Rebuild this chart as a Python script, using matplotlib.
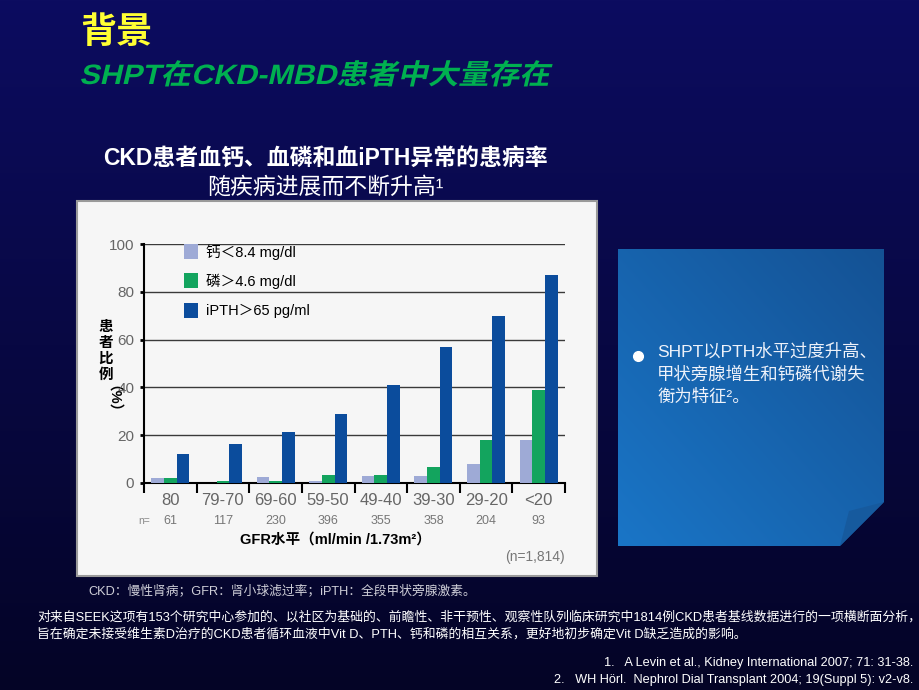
import numpy as np
import matplotlib
matplotlib.use("Agg")
import matplotlib.pyplot as plt
from matplotlib.patches import Rectangle, Polygon, PathPatch
from matplotlib.textpath import TextPath
from matplotlib.font_manager import FontProperties
from matplotlib.transforms import Affine2D

plt.rcParams['font.family'] = ['Liberation Sans', 'Noto Sans CJK SC', 'DejaVu Sans']

# data
gfr_groups = ["80", "79-70", "69-60", "59-50", "49-40", "39-30", "29-20", "<20"]
n_patients = ["61", "117", "230", "396", "355", "358", "204", "93"]
calcium_low = [2, 0, 2.5, 1, 3, 3, 8, 18]
phosphorus_high = [2, 1, 1, 3.5, 3.5, 6.5, 18, 39]
ipth_high = [12, 16.5, 21.5, 29, 41, 57, 70, 87]
series_labels = ["钙＜8.4 mg/dl", "磷＞4.6 mg/dl", "iPTH＞65 pg/ml"]
series_colors = ["#9eaad6", "#13a45e", "#0b4c9c"]
y_ticks = [0, 20, 40, 60, 80, 100]

fig = plt.figure(figsize=(9.2, 6.9), dpi=100)

# slide background in pixel coordinates
bg = fig.add_axes([0, 0, 1, 1])
bg.set_xlim(0, 920)
bg.set_ylim(690, 0)
bg.axis("off")
top = np.array([12, 12, 96]) / 255
bot = np.array([4, 4, 38]) / 255
t = np.linspace(0, 1, 256)[:, None]
grad = (top * (1 - t) + bot * t)[:, None, :].repeat(2, axis=1)
bg.imshow(grad, extent=[0, 920, 690, 0], aspect="auto", zorder=0)

# titles
bg.text(80, 33, "背景", color="#ffff33", fontsize=26, fontweight="bold",
        va="center", family=["Noto Sans CJK SC"])

# slanted green subtitle (CJK font has no italic, so shear the glyph outlines)
sub = "SHPT在CKD-MBD患者中大量存在"
try:
    tp = TextPath((0, 0), sub, size=30,
                  prop=FontProperties(family=['Liberation Sans', 'Noto Sans CJK SC'],
                                      weight="bold"))
    ext = tp.get_extents()
    k = 468 / ext.width
    tr = Affine2D().skew_deg(12, 0).scale(k, -k * 0.92).translate(80 - ext.x0 * k, 84)
    bg.add_patch(PathPatch(tr.transform_path(tp), fc="#00b050", ec="none", zorder=3))
except Exception:
    bg.text(80, 73, sub, color="#00b050", fontsize=22, fontweight="bold",
            style="italic", va="center")

bg.text(325, 158, "CKD患者血钙、血磷和血iPTH异常的患病率", color="white",
        fontsize=16.5, fontweight="bold", ha="center", va="center")
bg.text(325, 187, "随疾病进展而不断升高¹", color="white", fontsize=16.5,
        ha="center", va="center")

# chart panel
bg.add_patch(Rectangle((77, 201), 520, 375, fc="#f6f6f6", ec="#9a9a9a", lw=1.5, zorder=1))

# right note box with folded corner
box = Polygon([(618, 249), (884, 249), (884, 502), (840, 546), (618, 546)],
              closed=True, fc="none", ec="none", zorder=2)
bg.add_patch(box)
yy, xx = np.mgrid[0:1:200j, 0:1:200j]
w = (xx + yy) / 2  # 0 at bottom-left, 1 at top-right
c0 = np.array([0.10, 0.46, 0.78])
c1 = np.array([0.08, 0.32, 0.58])
boxgrad = c0 * (1 - w[..., None]) + c1 * w[..., None]
im = bg.imshow(boxgrad, extent=[618, 884, 546, 249], aspect="auto", zorder=2, origin="lower")
im.set_clip_path(box)
bg.add_patch(Polygon([(884, 502), (849, 511), (840, 546)], closed=True,
                     fc="#165a9e", ec="none", zorder=3))
bg.plot(638, 356, "o", color="white", ms=7, zorder=4)
bg.text(657, 343, "SHPT以PTH水平过度升高、\n甲状旁腺增生和钙磷代谢失\n衡为特征²。",
        color="#eef2fa", fontsize=12.5, va="top", linespacing=1.5, zorder=4)

# footnotes
bg.text(88, 591, "CKD：慢性肾病；GFR：肾小球滤过率；iPTH：全段甲状旁腺激素。",
        color="#cfcfd8", fontsize=9.2, va="center")
bg.text(37, 617, "对来自SEEK这项有153个研究中心参加的、以社区为基础的、前瞻性、非干预性、观察性队列临床研究中1814例CKD患者基线数据进行的一项横断面分析，",
        color="white", fontsize=9.25, va="center")
bg.text(37, 634, "旨在确定未接受维生素D治疗的CKD患者循环血液中Vit D、PTH、钙和磷的相互关系，更好地初步确定Vit D缺乏造成的影响。",
        color="white", fontsize=9.25, va="center")
refs = ["1.   A Levin et al., Kidney International 2007; 71: 31-38.",
        "2.   WH Hörl.  Nephrol Dial Transplant 2004; 19(Suppl 5): v2-v8."]
for i, r in enumerate(refs):
    bg.text(913, 663 + 17 * i, r, color="white", fontsize=9.2, ha="right", va="center",
            family=["Liberation Sans Narrow", "Liberation Sans"])

# bar chart
ax = fig.add_axes([144 / 920, 1 - 483 / 690, 421 / 920, 239 / 690])
ax.set_facecolor("none")
x = np.arange(len(gfr_groups))
bw = 0.24
for k, vals in enumerate([calcium_low, phosphorus_high, ipth_high]):
    ax.bar(x + (k - 1) * bw, vals, width=bw, color=series_colors[k],
           label=series_labels[k], zorder=3)
ax.set_xlim(-0.5, len(gfr_groups) - 0.5)
ax.set_ylim(0, 100)
ax.set_yticks(y_ticks)
ax.set_yticklabels([str(v) for v in y_ticks], color="#666666", fontsize=11)
ax.tick_params(axis="y", length=3, width=2, color="black", pad=4)
ax.yaxis.grid(True, color="#3a3a3a", lw=1, zorder=1)
for s in ["top", "right"]:
    ax.spines[s].set_visible(False)
ax.spines["left"].set_linewidth(1.5)
ax.spines["bottom"].set_linewidth(1.5)
ax.set_xticks(x)
ax.set_xticklabels(gfr_groups, color="#666666", fontsize=12)
ax.tick_params(axis="x", length=0, pad=7)
ax.set_xticks(np.arange(-0.5, len(gfr_groups)), minor=True)
ax.tick_params(axis="x", which="minor", length=7, width=1.5, color="black")
trans = ax.get_xaxis_transform()
for xi, n in zip(x, n_patients):
    ax.text(xi, -0.16, n, transform=trans, ha="center", va="center",
            color="#777777", fontsize=9)
ax.text(-0.5, -0.16, "n=", transform=trans, ha="center", va="center",
        color="#888888", fontsize=7.5)
ax.legend(loc="upper left", bbox_to_anchor=(0.065, 1.055), frameon=False,
          fontsize=10.5, handlelength=0.9, handleheight=1.2, labelspacing=0.95,
          handletextpad=0.55)

# vertical y label, one glyph per row
for i, ch in enumerate("患者比例"):
    bg.text(106, 327 + 16 * i, ch, fontsize=10.5, fontweight="bold", ha="center",
            va="center", zorder=5)
bg.text(106, 406, "（%）", fontsize=10.5, fontweight="bold", ha="center",
        va="center", rotation=-90, zorder=5)
bg.text(335, 540, "GFR水平（ml/min /1.73m²）", fontsize=10.5, fontweight="bold",
        ha="center", va="center", zorder=5)
bg.text(565, 557, "(n=1,814)", fontsize=10, color="#777777", ha="right",
        va="center", zorder=5)

fig.savefig("out.png", dpi=100)
